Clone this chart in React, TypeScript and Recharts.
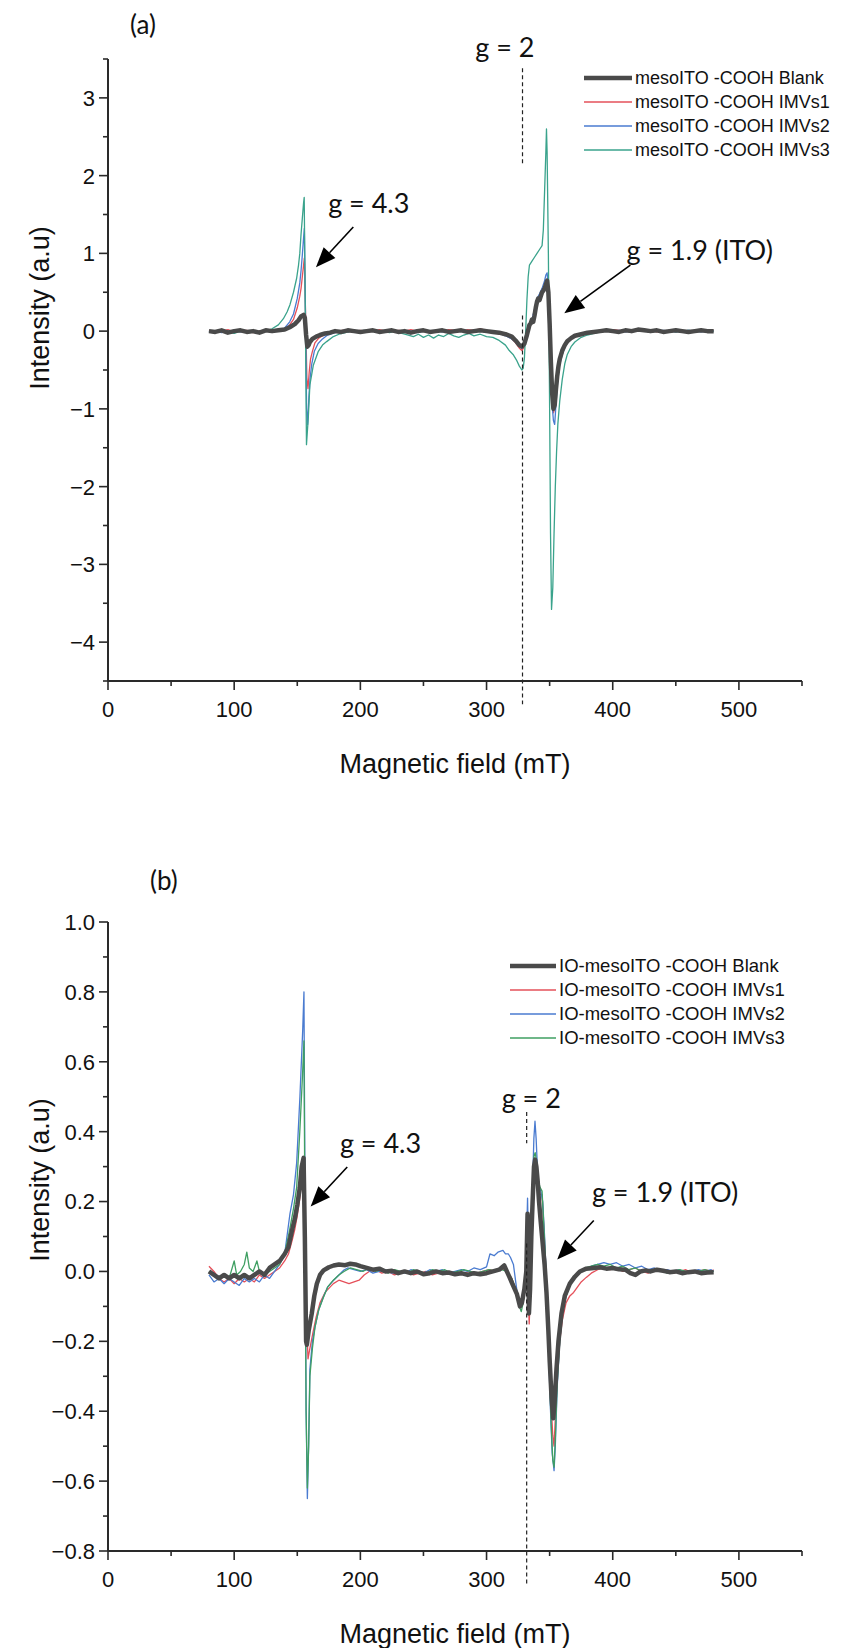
import React from 'react'
import { LineChart, Line, XAxis, YAxis, ReferenceLine, ReferenceDot, Legend } from 'recharts'

type Pt = [number, number]

// axis ticks (majors carry labels, the rest are minor ticks)
const X_TICKS = [0, 50, 100, 150, 200, 250, 300, 350, 400, 450, 500, 550]
const Y_TICKS_A = [-4.5, -4, -3.5, -3, -2.5, -2, -1.5, -1, -0.5, 0, 0.5, 1, 1.5, 2, 2.5, 3, 3.5]
const Y_TICKS_B = [-0.8, -0.7, -0.6, -0.5, -0.4, -0.3, -0.2, -0.1, 0, 0.1, 0.2, 0.3, 0.4, 0.5, 0.6, 0.7, 0.8, 0.9, 1.0]

// ---- panel (a): mesoITO -COOH, [field mT, intensity a.u.] ----
const A_BLANK: Pt[] = [
  [80, 0.0], [85, -0.01], [90, 0.01], [95, -0.02], [100, 0.0], [105, 0.01], [110, -0.01], [115, 0.0], [120, -0.02], [125, 0.01], [130, 0.0], [135, 0.01],
  [140, 0.02], [144, 0.05], [148, 0.09], [151, 0.14], [153, 0.19], [155, 0.21], [156, 0.17], [157, -0.05], [158, -0.2], [159, -0.18], [160, -0.14], [162, -0.1],
  [165, -0.07], [168, -0.05], [172, -0.03], [176, -0.02], [180, 0.0], [185, -0.01], [190, 0.01], [195, 0.0], [200, -0.01], [205, 0.0], [210, 0.01], [215, -0.01],
  [220, 0.0], [225, 0.01], [230, -0.01], [235, 0.0], [240, -0.02], [245, 0.0], [250, 0.01], [255, -0.01], [260, 0.0], [265, 0.01], [270, -0.01], [275, 0.0],
  [280, 0.01], [285, -0.01], [290, 0.0], [295, 0.01], [300, 0.0], [305, -0.01], [310, -0.02], [315, -0.04], [320, -0.07], [323, -0.12], [326, -0.18], [328, -0.2],
  [330, -0.16], [332, -0.05], [334, 0.08], [335, 0.1], [336, 0.15], [337, 0.12], [338, 0.2], [339, 0.3], [340, 0.38], [341, 0.42], [342, 0.4], [343, 0.45],
  [344, 0.5], [345, 0.52], [346, 0.55], [347, 0.6], [348, 0.65], [349, 0.5], [350, 0.1], [351, -0.4], [352, -0.8], [353, -1.0], [354, -0.95], [355, -0.75],
  [356, -0.58], [357, -0.45], [358, -0.36], [360, -0.25], [362, -0.18], [364, -0.13], [367, -0.09], [370, -0.06], [375, -0.04], [380, -0.02], [385, -0.01],
  [390, 0.0], [395, 0.01], [400, 0.0], [405, -0.01], [410, 0.01], [415, 0.0], [420, 0.02], [425, 0.01], [430, 0.0], [435, 0.01], [440, -0.01], [445, 0.0],
  [450, 0.01], [455, 0.0], [460, -0.01], [465, 0.0], [470, 0.01], [475, 0.0], [480, 0.0],
]
const A_IMV1: Pt[] = [
  [80, 0.01], [85, -0.01], [90, 0.0], [95, 0.02], [100, -0.01], [105, 0.0], [110, 0.01], [115, -0.02], [120, 0.0], [125, 0.01], [130, 0.0], [135, 0.02],
  [140, 0.03], [144, 0.08], [147, 0.15], [150, 0.3], [152, 0.45], [153, 0.55], [154, 0.7], [155, 0.85], [155.6, 0.94], [156.6, 0.2], [157.6, -0.6], [158.5, -0.74],
  [159.5, -0.52], [160.5, -0.36], [162, -0.26], [164, -0.15], [167, -0.09], [170, -0.06], [174, -0.03], [178, -0.01], [182, 0.0], [186, 0.01], [190, -0.01],
  [195, 0.0], [200, 0.01], [205, -0.01], [210, 0.0], [215, 0.02], [220, 0.0], [225, -0.01], [230, 0.01], [235, 0.0], [240, 0.02], [245, 0.0], [250, 0.01],
  [255, -0.01], [260, 0.01], [265, 0.0], [270, 0.02], [275, 0.01], [280, 0.0], [285, 0.02], [290, 0.01], [295, 0.03], [300, 0.01], [305, 0.0], [310, -0.02],
  [315, -0.05], [320, -0.1], [323, -0.15], [326, -0.22], [328, -0.25], [330, -0.2], [332, -0.08], [334, 0.05], [336, 0.12], [338, 0.25], [340, 0.38],
  [342, 0.42], [344, 0.48], [346, 0.55], [347, 0.58], [348, 0.6], [349, 0.45], [350, 0.05], [351, -0.45], [352, -0.85], [353, -1.05], [354, -1.0], [355, -0.8],
  [356, -0.62], [357, -0.48], [358, -0.38], [360, -0.27], [362, -0.19], [364, -0.14], [367, -0.1], [370, -0.07], [375, -0.04], [380, -0.02], [385, 0.0],
  [390, 0.01], [395, 0.0], [400, 0.02], [405, 0.01], [410, 0.0], [415, 0.02], [420, 0.01], [425, 0.0], [430, 0.01], [435, -0.01], [440, 0.0], [445, 0.01],
  [450, 0.0], [455, 0.01], [460, -0.01], [465, 0.0], [470, 0.01], [475, 0.0], [480, 0.01],
]
const A_IMV2: Pt[] = [
  [80, -0.01], [85, 0.0], [90, -0.02], [95, 0.0], [100, 0.01], [105, -0.01], [110, 0.0], [115, 0.01], [120, -0.01], [125, 0.0], [130, 0.01], [135, 0.02],
  [140, 0.04], [144, 0.12], [147, 0.22], [150, 0.42], [152, 0.62], [153, 0.78], [154, 0.98], [155, 1.2], [155.6, 1.32], [156.6, 0.1], [157.4, -1.0], [158.2, -1.2],
  [159.2, -0.85], [160.2, -0.6], [161.5, -0.42], [163.5, -0.26], [166.5, -0.16], [170, -0.1], [174, -0.05], [178, -0.03], [182, -0.01], [186, 0.0], [190, -0.01],
  [195, 0.01], [200, 0.0], [205, -0.01], [210, 0.01], [215, 0.0], [220, -0.01], [225, 0.0], [230, -0.02], [235, -0.01], [240, 0.0], [245, -0.02], [250, 0.0],
  [255, -0.01], [260, 0.01], [265, -0.01], [270, 0.0], [275, -0.01], [280, 0.01], [285, 0.0], [290, -0.01], [295, 0.0], [300, -0.01], [305, -0.01], [310, -0.03],
  [315, -0.06], [320, -0.1], [323, -0.14], [326, -0.2], [328, -0.22], [330, -0.18], [332, -0.06], [334, 0.06], [336, 0.15], [338, 0.28], [340, 0.42],
  [342, 0.48], [344, 0.55], [346, 0.65], [347, 0.72], [348, 0.75], [349, 0.55], [350, 0.05], [351, -0.5], [352, -0.95], [353, -1.15], [354, -1.2], [355, -0.95],
  [356, -0.72], [357, -0.55], [358, -0.43], [360, -0.3], [362, -0.21], [364, -0.15], [367, -0.1], [370, -0.07], [375, -0.04], [380, -0.02], [385, -0.01],
  [390, 0.0], [395, 0.01], [400, 0.0], [405, 0.01], [410, -0.01], [415, 0.0], [420, 0.01], [425, 0.0], [430, -0.01], [435, 0.0], [440, 0.01], [445, 0.0],
  [450, -0.01], [455, 0.0], [460, 0.01], [465, 0.0], [470, -0.01], [475, 0.0], [480, 0.0],
]
const A_IMV3: Pt[] = [
  [80, 0.0], [85, -0.02], [90, 0.01], [95, -0.01], [100, -0.03], [105, 0.0], [110, -0.01], [115, 0.01], [120, -0.02], [125, 0.0], [130, 0.03], [135, 0.08],
  [139, 0.16], [142, 0.25], [144.2, 0.34], [147, 0.5], [149.5, 0.68], [151, 0.85], [152, 1.0], [153, 1.25], [154, 1.45], [155, 1.65], [155.5, 1.72], [156.5, 0.0],
  [157.3, -1.46], [158.7, -1.12], [160, -0.69], [162.7, -0.44], [166.7, -0.26], [170, -0.18], [173.3, -0.135], [178.6, -0.07], [183, -0.04], [188, -0.02],
  [193, 0.0], [198, -0.01], [203, 0.01], [208, 0.0], [213, -0.01], [218, 0.0], [223, -0.02], [228, 0.0], [233, -0.03], [238, -0.05], [242, -0.07], [246, -0.04],
  [250, -0.08], [254, -0.05], [258, -0.09], [262, -0.05], [266, -0.07], [270, -0.03], [274, -0.06], [278, -0.08], [282, -0.05], [286, -0.03], [290, -0.06],
  [295, -0.04], [300, -0.07], [305, -0.08], [310, -0.12], [315, -0.18], [318, -0.25], [321, -0.3], [324, -0.38], [326, -0.45], [328, -0.5], [329, -0.48],
  [330, -0.35], [331, 0.0], [332, 0.4], [333, 0.7], [334, 0.85], [336, 0.9], [338, 0.95], [340, 1.0], [342, 1.05], [344, 1.1], [345, 1.3], [346, 1.8], [347, 2.3],
  [347.5, 2.6], [348, 2.3], [349, 1.0], [350, -1.0], [350.7, -2.6], [351.5, -3.58], [352.5, -3.3], [353.5, -2.6], [354.5, -2.0], [355.5, -1.55], [356.5, -1.2],
  [358, -0.9], [360, -0.62], [362, -0.42], [364, -0.3], [367, -0.2], [370, -0.14], [375, -0.08], [380, -0.05], [385, -0.03], [390, -0.01], [395, 0.0],
  [400, 0.01], [405, 0.0], [410, 0.02], [415, 0.0], [420, 0.03], [425, 0.01], [430, 0.0], [435, 0.02], [440, 0.0], [445, 0.01], [450, -0.01], [455, 0.0],
  [460, 0.01], [465, 0.0], [470, 0.01], [475, 0.0], [480, 0.0],
]

// ---- panel (b): IO-mesoITO -COOH ----
const B_BLANK: Pt[] = [
  [80, 0.0], [84, -0.01], [88, -0.02], [92, -0.01], [96, -0.02], [100, -0.01], [104, -0.02], [108, -0.01], [112, -0.02], [116, -0.01], [120, 0.0], [124, -0.01],
  [128, 0.01], [132, 0.02], [136, 0.03], [140, 0.05], [143, 0.07], [146, 0.12], [148, 0.15], [150, 0.19], [152, 0.24], [153.5, 0.3], [155, 0.325], [156, 0.1],
  [157, -0.2], [157.6, -0.21], [159, -0.17], [161.5, -0.12], [163.5, -0.07], [165.5, -0.035], [168, -0.01], [170.8, 0.003], [175, 0.012], [178.8, 0.017],
  [183, 0.02], [188, 0.018], [192, 0.022], [196, 0.02], [200, 0.015], [205, 0.01], [210, 0.005], [215, 0.008], [220, 0.0], [225, 0.002], [230, -0.005],
  [235, 0.0], [240, -0.005], [245, 0.0], [250, -0.008], [255, -0.005], [260, 0.0], [265, -0.005], [270, -0.003], [275, -0.008], [280, -0.005], [285, -0.01],
  [290, -0.005], [295, -0.008], [300, -0.005], [305, 0.0], [310, 0.005], [314, 0.017], [318, -0.015], [321, -0.04], [324, -0.064], [326.5, -0.1], [328, -0.09],
  [330, -0.05], [331.5, 0.0], [332.5, 0.165], [333, 0.05], [333.6, -0.12], [334.5, -0.05], [335.5, 0.1], [336.5, 0.2], [337.6, 0.3], [338.5, 0.32], [339.5, 0.3],
  [340.5, 0.26], [341.6, 0.2], [343, 0.14], [344.5, 0.08], [346, 0.02], [347.5, -0.06], [349, -0.17], [350.1, -0.26], [351.5, -0.36], [352.8, -0.42],
  [353.8, -0.38], [355.4, -0.28], [357, -0.2], [359.4, -0.12], [362, -0.07], [366, -0.035], [370, -0.015], [374, 0.0], [379, 0.008], [385, 0.01], [390, 0.012],
  [395, 0.008], [400, 0.01], [405, 0.006], [410, 0.005], [414, -0.005], [418, -0.01], [422, 0.0], [426, 0.003], [430, 0.0], [435, 0.005], [440, 0.002],
  [445, -0.002], [450, 0.0], [455, -0.005], [460, -0.002], [465, 0.0], [470, -0.005], [475, -0.003], [480, -0.002],
]
const B_IMV1: Pt[] = [
  [80, 0.015], [84, 0.0], [88, -0.02], [92, -0.03], [96, -0.02], [100, -0.035], [104, -0.02], [108, -0.03], [112, -0.02], [116, -0.03], [120, -0.01], [124, -0.02],
  [128, -0.01], [132, 0.0], [136, 0.01], [140, 0.03], [143, 0.05], [146, 0.09], [148, 0.12], [150, 0.16], [152, 0.21], [153.5, 0.26], [155, 0.3], [156, 0.15],
  [157, -0.1], [158.5, -0.25], [160, -0.22], [162.7, -0.17], [165, -0.13], [168, -0.09], [172, -0.06], [178.6, -0.035], [183, -0.025], [187, -0.03], [191, -0.035],
  [195, -0.03], [199, -0.025], [203, -0.01], [207, 0.0], [212, 0.005], [217, -0.005], [222, 0.0], [227, -0.01], [232, -0.005], [237, 0.0], [242, -0.01],
  [247, -0.005], [252, 0.0], [257, -0.01], [262, -0.005], [267, 0.0], [272, -0.005], [277, -0.01], [282, -0.005], [287, 0.0], [292, -0.005], [297, 0.0],
  [302, 0.005], [307, 0.0], [312, 0.01], [316, 0.0], [320, -0.02], [323, -0.05], [326, -0.09], [327.5, -0.1], [329, -0.08], [331, -0.03], [332.2, 0.08],
  [333, -0.05], [333.8, -0.15], [334.8, -0.05], [336, 0.12], [337.5, 0.28], [338.5, 0.32], [339.5, 0.3], [341, 0.24], [342.5, 0.22], [344, 0.22], [345, 0.15],
  [346.5, 0.05], [348, -0.08], [349.5, -0.22], [351, -0.37], [352.5, -0.47], [353.5, -0.5], [354.5, -0.42], [356, -0.3], [358, -0.2], [360, -0.14], [363, -0.09],
  [366, -0.07], [369, -0.06], [372, -0.045], [375, -0.03], [379, -0.017], [383, -0.005], [388, 0.005], [393, 0.01], [398, 0.005], [403, 0.01], [408, 0.0],
  [413, 0.005], [418, 0.01], [423, 0.0], [428, -0.005], [433, 0.005], [438, 0.0], [443, 0.005], [448, -0.005], [453, 0.0], [458, 0.005], [463, -0.005],
  [468, 0.0], [473, 0.005], [478, 0.0], [480, 0.005],
]
const B_IMV2: Pt[] = [
  [80, -0.01], [84, -0.03], [88, -0.02], [92, -0.035], [96, -0.02], [100, -0.03], [104, -0.04], [108, -0.02], [112, -0.03], [116, -0.02], [120, -0.03],
  [124, -0.01], [128, -0.02], [132, 0.0], [136, 0.02], [140, 0.05], [144.2, 0.165], [147, 0.22], [149.5, 0.31], [152.1, 0.5], [154.3, 0.69], [155.3, 0.8],
  [156, 0.3], [157, -0.4], [158, -0.65], [159, -0.5], [160, -0.28], [162, -0.2], [164, -0.16], [167, -0.11], [170.6, -0.074], [174, -0.045], [178.6, -0.026],
  [183, -0.01], [186.6, 0.003], [190, 0.01], [195, 0.005], [200, 0.0], [205, 0.005], [210, -0.005], [215, 0.0], [220, 0.005], [225, -0.005], [230, 0.0],
  [235, -0.005], [240, 0.005], [245, 0.0], [250, -0.005], [255, 0.005], [260, 0.0], [265, 0.005], [270, -0.005], [275, 0.0], [280, 0.005], [285, 0.0],
  [290, 0.01], [295, 0.005], [300, 0.013], [302.7, 0.05], [306, 0.045], [309, 0.055], [313, 0.06], [315, 0.05], [317.3, 0.05], [319, 0.04], [321.3, 0.02],
  [323.5, -0.04], [325.5, -0.09], [327, -0.1], [329, -0.08], [331, -0.02], [332.5, 0.21], [333.3, 0.05], [334, -0.1], [335, 0.05], [336.5, 0.25], [337.5, 0.38],
  [338.4, 0.43], [339.3, 0.38], [340.5, 0.28], [341.6, 0.24], [343, 0.23], [344.5, 0.2], [346, 0.1], [347.5, -0.03], [349, -0.2], [350.5, -0.38], [352, -0.52],
  [353.5, -0.57], [354.5, -0.5], [356, -0.33], [358, -0.2], [360, -0.12], [363, -0.07], [366, -0.04], [369, -0.02], [373, -0.005], [378, 0.005], [383, 0.015],
  [388, 0.02], [393, 0.025], [398, 0.02], [403, 0.025], [408, 0.015], [413, 0.02], [418, 0.01], [423, 0.015], [428, 0.005], [433, 0.01], [438, 0.0],
  [443, 0.005], [448, 0.0], [453, 0.005], [458, -0.005], [463, 0.0], [468, 0.005], [473, 0.0], [478, 0.005], [480, 0.0],
]
const B_IMV3: Pt[] = [
  [80, 0.0], [84, -0.01], [88, -0.02], [92, -0.01], [96, -0.02], [100, 0.03], [102, -0.01], [105, 0.0], [108, 0.02], [110, 0.055], [112, 0.01], [115, 0.0],
  [118, 0.03], [120, 0.0], [124, -0.01], [128, 0.0], [132, 0.01], [136, 0.02], [140, 0.05], [144, 0.12], [147, 0.18], [149.5, 0.24], [152, 0.4], [154, 0.55],
  [155.3, 0.66], [156, 0.2], [157, -0.4], [158, -0.62], [159, -0.5], [160, -0.3], [162, -0.22], [164, -0.16], [167, -0.11], [170.6, -0.075], [174, -0.045],
  [178.6, -0.025], [183, -0.01], [187, 0.0], [192, 0.01], [197, 0.005], [202, 0.0], [207, 0.01], [212, 0.0], [217, 0.005], [222, -0.005], [227, 0.005],
  [232, 0.0], [237, -0.005], [242, 0.005], [247, 0.0], [252, -0.005], [257, 0.005], [262, 0.0], [267, 0.005], [272, -0.005], [277, 0.0], [282, 0.005],
  [287, 0.0], [292, -0.005], [297, 0.0], [302, 0.005], [307, 0.0], [312, 0.005], [316, 0.0], [320, -0.02], [323, -0.05], [326, -0.1], [327.5, -0.115],
  [329, -0.09], [331, -0.03], [332.3, 0.12], [333, 0.02], [333.8, -0.1], [335, 0.08], [336.5, 0.24], [337.6, 0.33], [338.5, 0.34], [339.5, 0.32], [341, 0.26],
  [342.5, 0.24], [344, 0.23], [345, 0.16], [346.5, 0.05], [348, -0.08], [349.5, -0.24], [351, -0.42], [352.5, -0.54], [353.5, -0.56], [354.5, -0.48],
  [356, -0.32], [358, -0.2], [360, -0.12], [363, -0.07], [366, -0.04], [369, -0.02], [373, -0.005], [378, 0.01], [383, 0.015], [388, 0.02], [393, 0.015],
  [398, 0.02], [403, 0.01], [408, 0.015], [413, 0.005], [418, 0.01], [423, 0.0], [428, 0.005], [433, 0.0], [438, 0.005], [443, -0.005], [448, 0.0],
  [453, 0.005], [458, 0.0], [463, -0.005], [468, 0.0], [473, 0.005], [478, 0.0], [480, 0.0],
]

const AXIS = '#2a2a2a'
const GRAY = '#4a4a4a'
const RED = '#e5505a'
const BLUE = '#4a7bd0'
const TEAL = '#3aa38c'
const GREEN = '#3f9f62'
const SANS = "'Liberation Sans', Arial, sans-serif"
const NOTE = "Lato, 'Open Sans', sans-serif"

interface Series {
  name: string
  pts: Pt[]
  color: string
  width: number
}
interface Note {
  text: string
  x: number
  y: number
}
interface Arrow {
  from: Pt
  to: Pt
}

const toRows = (pts: Pt[]) => pts.map(([b, v]) => ({ b, v }))
const minus = (s: string) => s.replace('-', '\u2212')

const XTick = ({ x, y, payload }: any) => {
  const major = payload.value % 100 === 0
  return (
    <g>
      <line x1={x} y1={y} x2={x} y2={y + (major ? 9 : 5)} stroke={AXIS} strokeWidth={1.6} />
      {major && (
        <text x={x} y={y + 36} textAnchor="middle" fontSize={22} fontFamily={SANS} fill="#111">
          {payload.value}
        </text>
      )}
    </g>
  )
}

const makeYTick = (isMajor: (v: number) => boolean, fmt: (v: number) => string) => ({ x, y, payload }: any) => {
  const major = isMajor(payload.value)
  return (
    <g>
      <line x1={x - (major ? 9 : 5)} y1={y} x2={x} y2={y} stroke={AXIS} strokeWidth={1.6} />
      {major && (
        <text x={x - 13} y={y} dy="0.36em" textAnchor="end" fontSize={22} fontFamily={SANS} fill="#111">
          {fmt(payload.value)}
        </text>
      )}
    </g>
  )
}

const ArrowShape = ({ x1, y1, x2, y2 }: any) => {
  const ang = Math.atan2(y2 - y1, x2 - x1)
  const len = 20
  const half = 8
  const bx = x2 - len * Math.cos(ang)
  const by = y2 - len * Math.sin(ang)
  const pts = `${x2},${y2} ${bx + half * Math.sin(ang)},${by - half * Math.cos(ang)} ${bx - half * Math.sin(ang)},${by + half * Math.cos(ang)}`
  return (
    <g>
      <line x1={x1} y1={y1} x2={bx} y2={by} stroke="#000" strokeWidth={1.6} />
      <polygon points={pts} fill="#000" />
    </g>
  )
}

interface PanelProps {
  top: number
  height: number
  marginTop: number
  axisHeight: number
  yDomain: [number, number]
  yTicks: number[]
  isMajorY: (v: number) => boolean
  fmtY: (v: number) => string
  yTitleCenter: number
  series: Series[]
  legendLeft: number
  legendTop: number
  legendFont: number
  sampleW: number
  notes: Note[]
  arrows: Arrow[]
  g2: number
  g2Upper: [number, number]
  g2Lower: [number, number]
  tag: string
  tagLeft: number
  tagTop: number
}

function SpectrumPanel(p: PanelProps) {
  const YTick = makeYTick(p.isMajorY, p.fmtY)
  // colored traces first, blank on top
  const drawOrder = [...p.series.slice(1), p.series[0]]
  return (
    <div style={{ position: 'absolute', left: 0, top: p.top, width: 844, height: p.height }}>
      <div style={{ position: 'absolute', left: p.tagLeft, top: p.tagTop, fontFamily: NOTE, fontSize: 26, color: '#111' }}>{p.tag}</div>
      <LineChart width={844} height={p.height} margin={{ top: p.marginTop, right: 42, bottom: 0, left: 0 }}>
        <XAxis
          type="number"
          dataKey="b"
          domain={[0, 550]}
          ticks={X_TICKS}
          interval={0}
          tickSize={0}
          tickMargin={0}
          height={p.axisHeight}
          axisLine={{ stroke: AXIS, strokeWidth: 2 }}
          tickLine={false}
          tick={<XTick />}
          label={{
            content: ({ viewBox }: any) => (
              <text x={viewBox.x + viewBox.width / 2} y={viewBox.y + 92} textAnchor="middle" fontSize={27} fontFamily={SANS} fill="#111">
                Magnetic field (mT)
              </text>
            ),
          }}
        />
        <YAxis
          type="number"
          domain={p.yDomain}
          ticks={p.yTicks}
          interval={0}
          width={108}
          tickSize={0}
          tickMargin={0}
          axisLine={{ stroke: AXIS, strokeWidth: 2 }}
          tickLine={false}
          tick={<YTick />}
          label={{
            content: () => (
              <text
                x={40}
                y={p.yTitleCenter}
                textAnchor="middle"
                fontSize={27}
                fontFamily={SANS}
                fill="#111"
                transform={`rotate(-90, 40, ${p.yTitleCenter})`}
                dy="0.35em"
              >
                Intensity (a.u)
              </text>
            ),
          }}
        />
        {drawOrder.map((s) => (
          <Line
            key={s.name}
            data={toRows(s.pts)}
            dataKey="v"
            name={s.name}
            type="linear"
            stroke={s.color}
            strokeWidth={s.width}
            strokeLinejoin="round"
            dot={false}
            activeDot={false}
            isAnimationActive={false}
          />
        ))}
        <ReferenceLine
          segment={[{ x: p.g2, y: p.g2Upper[0] }, { x: p.g2, y: p.g2Upper[1] }]}
          stroke="#222"
          strokeWidth={1.2}
          strokeDasharray="4 3"
          ifOverflow="visible"
        />
        <ReferenceLine
          segment={[{ x: p.g2, y: p.g2Lower[0] }, { x: p.g2, y: p.g2Lower[1] }]}
          stroke="#222"
          strokeWidth={1.2}
          strokeDasharray="4 3"
          ifOverflow="visible"
        />
        {p.arrows.map((a, i) => (
          <ReferenceLine
            key={`arrow-${i}`}
            segment={[{ x: a.from[0], y: a.from[1] }, { x: a.to[0], y: a.to[1] }]}
            ifOverflow="visible"
            shape={<ArrowShape />}
          />
        ))}
        {p.notes.map((n) => (
          <ReferenceDot
            key={n.text}
            x={n.x}
            y={n.y}
            r={0}
            ifOverflow="visible"
            shape={({ cx, cy }: any) => (
              <text x={cx} y={cy} dy="0.35em" fontSize={27} fontFamily={NOTE} fill="#111">
                {n.text}
              </text>
            )}
          />
        ))}
        <Legend
          layout="vertical"
          align="center"
          verticalAlign="middle"
          wrapperStyle={{ left: p.legendLeft, top: p.legendTop, width: 300 }}
          content={() => (
            <div style={{ fontFamily: SANS, fontSize: p.legendFont, color: '#111' }}>
              {p.series.map((s) => (
                <div key={s.name} style={{ display: 'flex', alignItems: 'center', height: 24 }}>
                  <svg width={p.sampleW} height={24} style={{ flex: 'none' }}>
                    <line x1={0} y1={12} x2={p.sampleW} y2={12} stroke={s.color} strokeWidth={s.width} />
                  </svg>
                  <span style={{ marginLeft: 3, whiteSpace: 'nowrap' }}>{s.name}</span>
                </div>
              ))}
            </div>
          )}
        />
      </LineChart>
    </div>
  )
}

const SERIES_A: Series[] = [
  { name: 'mesoITO -COOH Blank', pts: A_BLANK, color: GRAY, width: 4.5 },
  { name: 'mesoITO -COOH IMVs1', pts: A_IMV1, color: RED, width: 1.3 },
  { name: 'mesoITO -COOH IMVs2', pts: A_IMV2, color: BLUE, width: 1.3 },
  { name: 'mesoITO -COOH IMVs3', pts: A_IMV3, color: TEAL, width: 1.3 },
]
const SERIES_B: Series[] = [
  { name: 'IO-mesoITO -COOH Blank', pts: B_BLANK, color: GRAY, width: 4.5 },
  { name: 'IO-mesoITO -COOH IMVs1', pts: B_IMV1, color: RED, width: 1.3 },
  { name: 'IO-mesoITO -COOH IMVs2', pts: B_IMV2, color: BLUE, width: 1.3 },
  { name: 'IO-mesoITO -COOH IMVs3', pts: B_IMV3, color: GREEN, width: 1.3 },
]
const NOTES_A: Note[] = [
  { text: 'g = 4.3', x: 174.5, y: 1.64 },
  { text: 'g = 2', x: 291, y: 3.65 },
  { text: 'g = 1.9 (ITO)', x: 411, y: 1.04 },
]
const ARROWS_A: Arrow[] = [
  { from: [194.4, 1.34], to: [164.8, 0.82] },
  { from: [414, 0.85], to: [361.6, 0.23] },
]
const NOTES_B: Note[] = [
  { text: 'g = 4.3', x: 183.8, y: 0.367 },
  { text: 'g = 2', x: 312, y: 0.496 },
  { text: 'g = 1.9 (ITO)', x: 383.5, y: 0.225 },
]
const ARROWS_B: Arrow[] = [
  { from: [189.6, 0.299], to: [160.6, 0.186] },
  { from: [385, 0.146], to: [356, 0.034] },
]

export default function App() {
  return (
    <div style={{ position: 'absolute', left: 0, top: 0, width: 844, height: 1648, background: '#fff', overflow: 'hidden' }}>
      <SpectrumPanel
        top={0}
        height={830}
        marginTop={59}
        axisHeight={149}
        yDomain={[-4.5, 3.5]}
        yTicks={Y_TICKS_A}
        isMajorY={(v) => Number.isInteger(v)}
        fmtY={(v) => minus(String(v))}
        yTitleCenter={308}
        series={SERIES_A}
        legendLeft={584}
        legendTop={66}
        legendFont={18}
        sampleW={48}
        notes={NOTES_A}
        arrows={ARROWS_A}
        g2={328.5}
        g2Upper={[3.38, 2.14]}
        g2Lower={[0.2, -4.8]}
        tag="(a)"
        tagLeft={130}
        tagTop={8}
      />
      <SpectrumPanel
        top={850}
        height={798}
        marginTop={72}
        axisHeight={97}
        yDomain={[-0.8, 1.0]}
        yTicks={Y_TICKS_B}
        isMajorY={(v) => Math.round(v * 10) % 2 === 0}
        fmtY={(v) => minus(v.toFixed(1))}
        yTitleCenter={330}
        series={SERIES_B}
        legendLeft={510}
        legendTop={104}
        legendFont={18.5}
        sampleW={46}
        notes={NOTES_B}
        arrows={ARROWS_B}
        g2={331.8}
        g2Upper={[0.456, 0.367]}
        g2Lower={[0.08, -0.9]}
        tag="(b)"
        tagLeft={150}
        tagTop={14}
      />
    </div>
  )
}
